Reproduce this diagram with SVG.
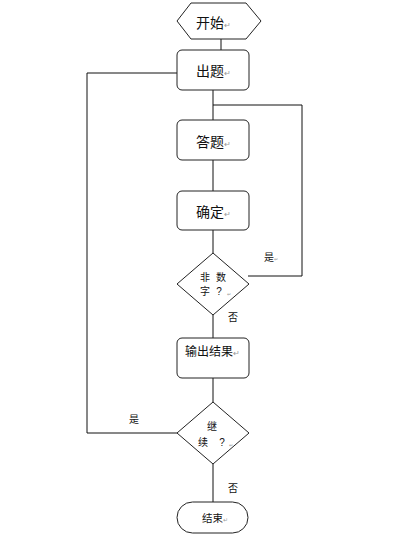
<svg xmlns="http://www.w3.org/2000/svg" width="406" height="534" viewBox="0 0 406 534">
<style>
.s{fill:#fff;stroke:#222;stroke-width:1}
.c{fill:none;stroke:#111;stroke-width:1}
.t{font-family:"Liberation Sans","Noto Sans CJK SC",sans-serif;fill:#111}
.m{fill:#999}
</style>
<rect width="406" height="534" fill="#fff"/>
<g id="connectors">
<path class="c" d="M221 39V50"/>
<path class="c" d="M213 90V120"/>
<path class="c" d="M213 160V191"/>
<path class="c" d="M213 230V253"/>
<path class="c" d="M213 315V338"/>
<path class="c" d="M213 378V402"/>
<path class="c" d="M213 464V502"/>
<path class="c" d="M248 276H302V105H213"/>
<path class="c" d="M177 433H87V73H177"/>
<text class="t" x="271" y="261" font-size="10" text-anchor="middle">是<tspan class="m" font-size="5">↵</tspan></text>
<text class="t" x="233" y="321" font-size="10" text-anchor="middle">否</text>
<text class="t" x="134" y="423" font-size="10" text-anchor="middle">是</text>
<text class="t" x="233" y="492" font-size="10" text-anchor="middle">否</text>
</g>
<g id="start">
<polygon class="s" points="177,21 191,3 246,3 261,21 246,39 191,39"/>
<text class="t" x="196" y="28" font-size="14">开始<tspan class="m" font-size="8">↵</tspan></text>
</g>
<g id="chuti">
<rect class="s" x="177" y="50" width="72" height="40" rx="5"/>
<text class="t" x="196" y="76" font-size="14">出题<tspan class="m" font-size="8">↵</tspan></text>
</g>
<g id="dati">
<rect class="s" x="177" y="120" width="72" height="40" rx="5"/>
<text class="t" x="196" y="147" font-size="14">答题<tspan class="m" font-size="8">↵</tspan></text>
</g>
<g id="queding">
<rect class="s" x="177" y="191" width="72" height="39" rx="5"/>
<text class="t" x="196" y="217" font-size="14">确定<tspan class="m" font-size="8">↵</tspan></text>
</g>
<g id="feishuzi">
<polygon class="s" points="213,253 249,284 213,315 177,284"/>
<text class="t" x="205" y="281" font-size="10" text-anchor="middle">非</text>
<text class="t" x="221" y="281" font-size="10" text-anchor="middle">数</text>
<text class="t" x="205" y="295" font-size="10" text-anchor="middle">字</text>
<text class="t" x="219" y="295" font-size="10" text-anchor="middle">?</text>
<text class="t m" x="229" y="296" font-size="5" text-anchor="middle">↵</text>
</g>
<g id="shuchu">
<rect class="s" x="177" y="338" width="72" height="40" rx="5"/>
<text class="t" x="185" y="356" font-size="12">输出结果<tspan class="m" font-size="8">↵</tspan></text>
</g>
<g id="jixu">
<polygon class="s" points="213,402 249,433 213,464 177,433"/>
<text class="t" x="212" y="430" font-size="10" text-anchor="middle">继</text>
<text class="t" x="203" y="446" font-size="10" text-anchor="middle">续</text>
<text class="t" x="222" y="446" font-size="10" text-anchor="middle">?</text>
<text class="t m" x="231" y="447" font-size="5" text-anchor="middle">↵</text>
</g>
<g id="end">
<rect class="s" x="177" y="502" width="71" height="31" rx="15.5"/>
<text class="t" x="202" y="522" font-size="10.5">结束<tspan class="m" font-size="6">↵</tspan></text>
</g>
</svg>
